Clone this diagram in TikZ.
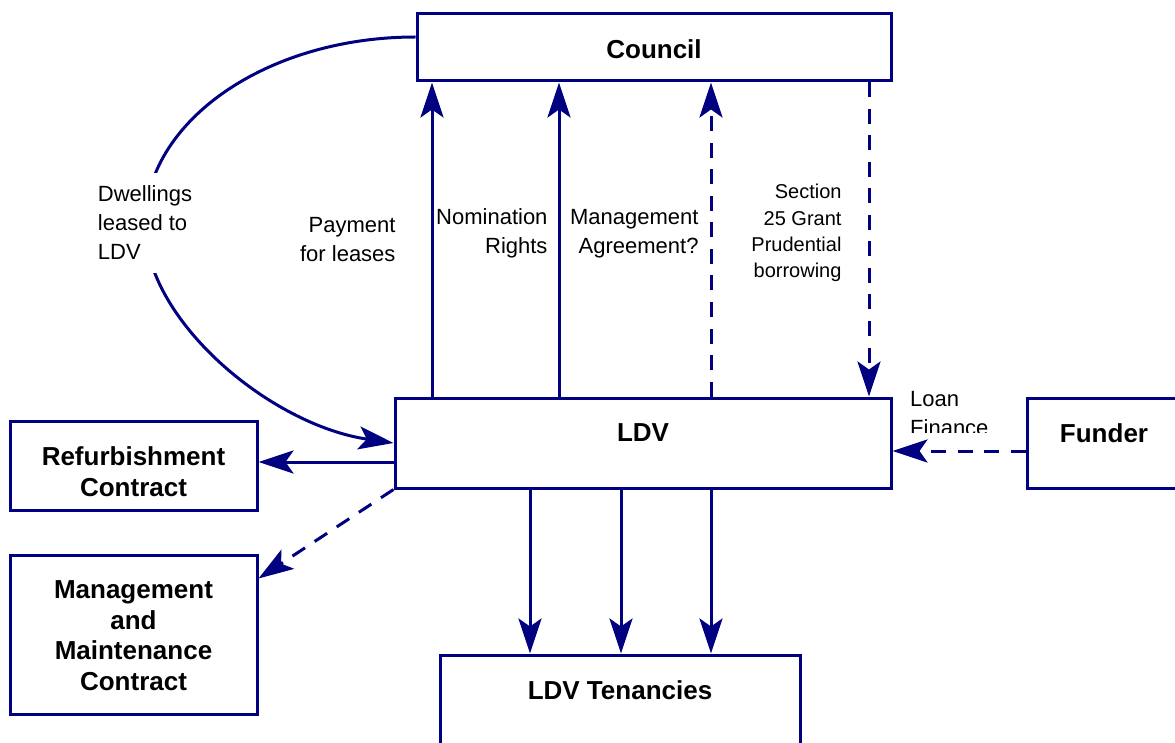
\documentclass[tikz,border=0pt]{standalone}
\usepackage{fontspec}
\setmainfont{Liberation Sans}
\usepackage{tikz}
\usetikzlibrary{arrows.meta, positioning}

\definecolor{ldvblue}{RGB}{0,0,128}

\begin{document}
\begin{tikzpicture}[x=1pt, y=-1pt,
  box/.style={draw=ldvblue, line width=3pt, inner sep=0pt, fill=white},
  boxlabel/.style={anchor=north, yshift=-27pt, align=center, inner sep=0pt, text=black, font=\fontsize{26pt}{30.5pt}\selectfont\bfseries},
  lbl/.style={inner sep=0pt, text=black, font=\fontsize{22pt}{29pt}\selectfont},
  smalllbl/.style={inner sep=0pt, align=right, text=black, font=\fontsize{20pt}{26.3pt}\selectfont},
  flow/.style={draw=ldvblue, line width=3pt, -{Stealth[length=35pt, width=23pt, inset=8pt]}},
  dashflow/.style={flow, dash pattern=on 15pt off 11.5pt}]
% Page size
\useasboundingbox (0,0) rectangle (1175,743);
\clip (0,0) rectangle (1175,743);

% Boxes
\node[box, minimum width=474pt, minimum height=67pt, label={[boxlabel]north:Council}] (council) at (654,47.5) {};
\node[box, minimum width=496pt, minimum height=90pt, label={[boxlabel]north:LDV}] (ldv) at (643,443) {};
\node[box, minimum width=154pt, minimum height=90pt, label={[boxlabel]north:Funder}] (funder) at (1104,443) {};
\node[box, minimum width=247pt, minimum height=89pt, label={[boxlabel]north:Refurbishment\\Contract}] (refurb) at (133.5,465.5) {};
\node[box, minimum width=247pt, minimum height=159pt, label={[boxlabel]north:Management\\and\\Maintenance\\Contract}] (mmc) at (133.5,634.5) {};
\node[box, minimum width=360pt, minimum height=105pt, label={[boxlabel]north:LDV Tenancies}] (tenancies) at (620,707.5) {};

% Leases: Council -> LDV
\draw[flow] (council.west |- 0,37) .. controls (267,37) and (145,121) .. (145,225)
  node[lbl, fill=white, align=left, inner xsep=3pt, inner ysep=13pt, yshift=2pt] (dwell) {Dwellings\\leased to\\LDV}
  .. controls (145,320) and (270,425) .. (ldv.west);

% LDV -> Council
\draw[flow] (ldv.north -| 432,0) -- node[lbl, pos=0.5, left=35pt, align=right] (pay) {Payment\\for leases} (council.south -| 432,0);
\draw[flow] (ldv.north -| 559,0) -- node[lbl, pos=0.52, left=10pt, align=right] (nom) {Nomination\\Rights} (council.south -| 559,0);
\draw[dashflow] (ldv.north -| 711,0) -- node[lbl, pos=0.52, left=11pt, align=right] (agree) {Management\\Agreement?} (council.south -| 711,0);
% Council -> LDV
\draw[dashflow] (council.south -| 869,0) -- node[smalllbl, pos=0.48, left=26pt] (grant) {Section\\25 Grant\\Prudential\\borrowing} (ldv.north -| 869,0);

% Funder -> LDV
\draw[dashflow] (funder.west |- 0,451) -- (ldv.east |- 0,451);
\begin{scope}
\clip (900,370) rectangle (1020,432);
\node[lbl, anchor=north west, align=left] (loan) at (910,391) {Loan\\Finance};
\end{scope}

% Contracts
\draw[flow] (ldv.west |- 0,462) -- (refurb.east |- 0,462);
\draw[dashflow] (ldv.south west) -- ([yshift=-25pt]mmc.north east);

% Tenancies
\foreach \xx in {530,621,711}
  \draw[flow] (ldv.south -| \xx,0) -- (tenancies.north -| \xx,0);

\end{tikzpicture}
\end{document}
